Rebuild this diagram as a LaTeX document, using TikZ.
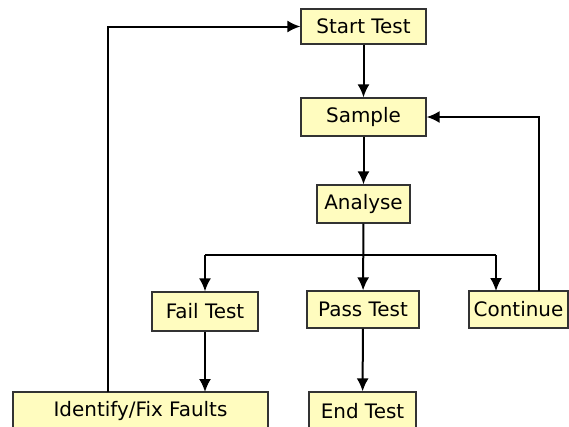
\documentclass[tikz,border=0pt]{standalone}
\usepackage{fontspec}
\setmainfont{DejaVu Sans}
\usetikzlibrary{arrows.meta}
\begin{document}
\begin{tikzpicture}[x=1bp,y=-1bp,
  stepbox/.style={draw=black!80, line width=1.2bp, fill=yellow!25!white, inner sep=0pt,
    font=\fontsize{20}{22}\selectfont},
  flow/.style={line width=2bp, -{Latex[length=13bp,width=12bp]}},
  plain/.style={line width=2bp}]
\useasboundingbox (0,0) rectangle (569,426);
\clip (0,0) rectangle (569,426);
\fill[white] (0,0) rectangle (569,426);
% process boxes
\node[stepbox, minimum width=125bp, minimum height=35bp] (start) at (363.5,26.5) {Start Test};
\node[stepbox, minimum width=125bp, minimum height=38bp] (sample) at (363.5,117) {Sample};
\node[stepbox, minimum width=93bp, minimum height=38bp] (ana) at (363.5,204) {Analyse};
\node[stepbox, minimum width=106bp, minimum height=39bp] (fail) at (205,311.5) {Fail Test};
\node[stepbox, minimum width=112bp, minimum height=37bp] (pass) at (363,309.5) {Pass Test};
\node[stepbox, minimum width=99bp, minimum height=37bp] (cont) at (518.5,309.5) {Continue};
\node[stepbox, minimum width=255bp, minimum height=38bp] (ident) at (140.5,411) {Identify/Fix Faults};
\node[stepbox, minimum width=107bp, minimum height=38bp] (end) at (362.5,411) {End Test};
% routing points
\coordinate (failtop) at (205,255);
\coordinate (conttop) at (496,255);
\coordinate (contin) at (496,291);
\coordinate (back) at (539,291);
\coordinate (identout) at (108,392);
\coordinate (failin) at (205,392);
% main path
\draw[flow] (start) -- (sample);
\draw[flow] (sample) -- (ana);
\draw[flow] (ana) -- (pass);
\draw[flow] (pass) -- (end);
% branches from the analysis
\draw[plain] (failtop) -- (conttop);
\draw[flow] (failtop) -- (fail);
\draw[flow] (conttop) -- (contin);
\draw[flow] (fail) -- (failin);
% loops back
\draw[flow] (back) |- (sample.east);
\draw[flow] (identout) |- (start.west);
\end{tikzpicture}
\end{document}
